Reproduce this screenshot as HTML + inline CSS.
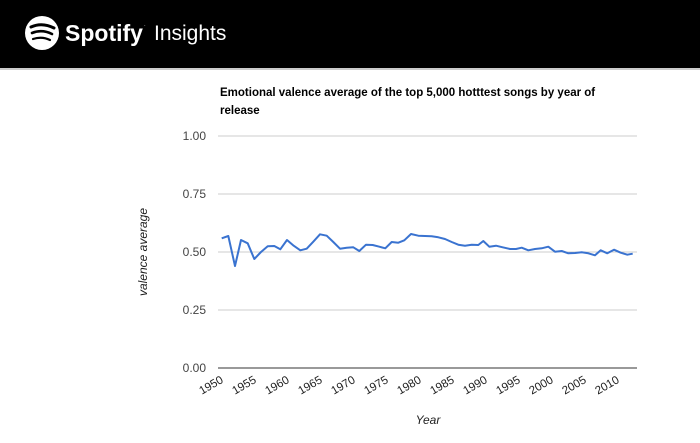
<!DOCTYPE html>
<html><head><style>
body{margin:0;width:700px;height:443px;background:#fff;overflow:hidden;font-family:"Liberation Sans",Arial,sans-serif}
.hd{position:absolute;left:0;top:0;width:700px;height:68px;background:#000;border-bottom:2px solid #ccc}
</style></head><body>
<div class="hd">
<svg width="300" height="68" style="position:absolute;left:0;top:0">
<circle cx="42" cy="33" r="17" fill="#fff"/>
<path d="M31 27 Q42 22 54 28" stroke="#000" stroke-width="3" fill="none" stroke-linecap="round"/>
<path d="M32 33 Q42 29 52 34" stroke="#000" stroke-width="2.6" fill="none" stroke-linecap="round"/>
<path d="M33 39 Q42 36 50 40" stroke="#000" stroke-width="2.2" fill="none" stroke-linecap="round"/>
<text x="65" y="41" font-size="23" font-weight="bold" fill="#fff" font-family="Liberation Sans,sans-serif">Spotify</text>
<text x="144" y="27" font-size="5" fill="#fff">·</text>
<text x="154" y="40" font-size="21" fill="#fff" font-family="Liberation Sans,sans-serif">Insights</text>
</svg></div>
<svg width="700" height="443" style="position:absolute;left:0;top:0;z-index:-1">
<text x="220" y="96" font-size="11.5" font-weight="bold" fill="#000">Emotional valence average of the top 5,000 hotttest songs by year of</text>
<text x="220" y="114" font-size="11.5" font-weight="bold" fill="#000">release</text>
<g stroke="#ccc" stroke-width="1">
<line x1="218" y1="136" x2="637" y2="136"/><line x1="218" y1="194" x2="637" y2="194"/>
<line x1="218" y1="252" x2="637" y2="252"/><line x1="218" y1="310" x2="637" y2="310"/>
</g>
<line x1="218" y1="368" x2="637" y2="368" stroke="#333" stroke-width="1"/>
<g font-size="12" fill="#444" text-anchor="end">
<text x="206" y="140">1.00</text><text x="206" y="198">0.75</text><text x="206" y="256">0.50</text><text x="206" y="314">0.25</text><text x="206" y="372">0.00</text>
</g>
<g font-size="11.5" fill="#222" text-anchor="end">
<text transform="translate(224,382) rotate(-30)">1950</text>
<text transform="translate(257,382) rotate(-30)">1955</text>
<text transform="translate(290,382) rotate(-30)">1960</text>
<text transform="translate(323,382) rotate(-30)">1965</text>
<text transform="translate(356,382) rotate(-30)">1970</text>
<text transform="translate(389,382) rotate(-30)">1975</text>
<text transform="translate(422,382) rotate(-30)">1980</text>
<text transform="translate(455,382) rotate(-30)">1985</text>
<text transform="translate(488,382) rotate(-30)">1990</text>
<text transform="translate(521,382) rotate(-30)">1995</text>
<text transform="translate(554,382) rotate(-30)">2000</text>
<text transform="translate(587,382) rotate(-30)">2005</text>
<text transform="translate(620,382) rotate(-30)">2010</text>
</g>
<text transform="translate(147,252) rotate(-90)" font-size="12" font-style="italic" text-anchor="middle" fill="#222">valence average</text>
<text x="428" y="424" font-size="12" font-style="italic" text-anchor="middle" fill="#222">Year</text>
<polyline fill="none" stroke="#3a73d0" stroke-width="2" stroke-linejoin="round" points="221.7,238.3 228.3,236 235,266 241,240 247.7,243.3 254.3,259 261,252 267.7,246.3 274.3,246 280.3,249.3 287,240 293.7,245.7 300.3,250.3 306.7,248.7 313.3,241.7 320,234.3 326.7,235.7 333.3,242 340,248.7 346.7,247.7 353.3,247.3 359.3,251 366,244.7 372.7,245 379.3,246.7 385.3,248.3 391.7,242 398.3,242.7 404.3,240.3 411,234 418.3,235.7 425,236 431.7,236.3 438.3,237.3 445,239 451.7,242 458.3,244.7 465,245.7 471.7,244.7 478.3,245 483.3,241 489.3,246.7 496,245.7 502.7,247.3 510,249 516,249 521.7,247.7 528.3,250.3 535,249 541.7,248.3 548.3,246.7 555,251.7 561.7,251 568.3,253.3 575,253 581.7,252.3 588.3,253.3 595,255.3 600.7,250.3 607.3,253.3 614,249.7 620.7,252.7 627.3,254.7 632.7,253.7"/>
</svg>
</body></html>
